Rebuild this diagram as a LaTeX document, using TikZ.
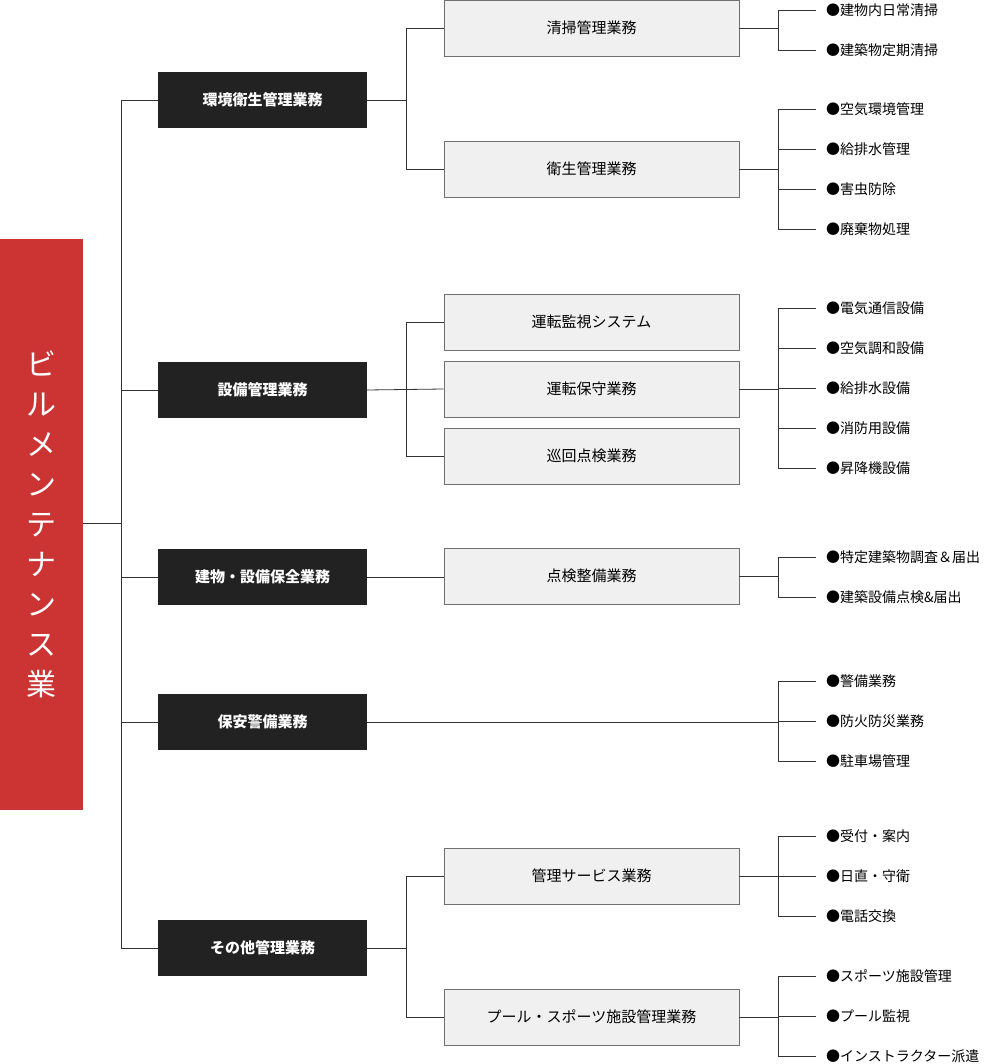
\documentclass[tikz,border=0pt]{standalone}
\usepackage{fontspec}
\setmainfont{Noto Sans CJK JP}
\newfontfamily\jpb{Noto Sans CJK JP}[BoldFont={Noto Sans CJK JP Bold}]
\definecolor{redb}{HTML}{CC3333}
\definecolor{darkb}{HTML}{222222}
\definecolor{lightb}{HTML}{F0F0F0}
\definecolor{lineg}{HTML}{333333}
\begin{document}
\begin{tikzpicture}[x=1pt,y=-1pt,
  dk/.style={fill=darkb,draw=none,minimum width=209pt,minimum height=56pt,text=white,font=\fontsize{15}{18}\selectfont\bfseries,inner sep=0pt},
  lt/.style={fill=lightb,draw=lineg!70,line width=0.6pt,minimum width=295pt,minimum height=56pt,font=\fontsize{15}{18}\selectfont,inner sep=0pt},
  it/.style={anchor=west,font=\fontsize{14}{17}\selectfont,inner sep=0pt},
  ln/.style={draw=lineg,line width=0.8pt}]
\useasboundingbox (0,0) rectangle (1002,1064);
\node[fill=redb,minimum width=83pt,minimum height=571pt,inner sep=0pt,anchor=north west] (root) at (0,239) {};
\node[text=white,font=\fontsize{30}{40}\selectfont,align=center] at (41.5,524) {ビ\\ル\\メ\\ン\\テ\\ナ\\ン\\ス\\業};
\coordinate (t0) at (121,100); \coordinate (t1) at (121,948);
\draw[ln] (root.east |- 0,523) -- (121,523);
\draw[ln] (t0) -- (t1);
\foreach \n/\y/\t in {a/100/環境衛生管理業務,b/390/設備管理業務,c/577/建物・設備保全業務,d/722/保安警備業務,e/948/その他管理業務}{
  \node[dk] (\n) at (262.5,\y) {\t};
  \draw[ln] (121,\y) -- (\n.west);
}
\foreach \n/\y/\t in {a1/28/清掃管理業務,a2/169/衛生管理業務,b1/322/運転監視システム,b2/389/運転保守業務,b3/456/巡回点検業務,c1/576/点検整備業務,e1/876/管理サービス業務,e2/1017/プール・スポーツ施設管理業務}{
  \node[lt] (\n) at (591.5,\y) {\t};
}
% level1 -> level2
\draw[ln] (a.east) -- (406,100); \draw[ln] (406,28) -- (406,169);
\draw[ln] (406,28) -- (a1.west); \draw[ln] (406,169) -- (a2.west);
\draw[ln] (b.east) -- (b2.west); \draw[ln] (406,322) -- (406,456);
\draw[ln] (406,322) -- (b1.west); \draw[ln] (406,456) -- (b3.west);
\draw[ln] (c.east) -- (c1.west |- c.east);
\draw[ln] (d.east) -- (778,722);
\draw[ln] (e.east) -- (406,948); \draw[ln] (406,876) -- (406,1017);
\draw[ln] (406,876) -- (e1.west); \draw[ln] (406,1017) -- (e2.west);
% level3
\foreach \src/\cy/\lst in {a1/28/{10/建物内日常清掃,50/建築物定期清掃},
  a2/169/{109/空気環境管理,149/給排水管理,189/害虫防除,229/廃棄物処理},
  b2/389/{308/電気通信設備,348/空気調和設備,388/給排水設備,428/消防用設備,468/昇降機設備},
  c1/576/{557/特定建築物調査＆届出,597/建築設備点検\&届出},
  d/722/{681/警備業務,721/防火防災業務,761/駐車場管理},
  e1/876/{836/受付・案内,876/日直・守衛,916/電話交換},
  e2/1017/{976/スポーツ施設管理,1016/プール監視,1056/インストラクター派遣}}{
  \draw[ln] (\src.east |- 0,\cy) -- (778,\cy);
  \foreach \yy/\tx [count=\i] in \lst {
    \draw[ln] (778,\yy) -- (816,\yy);
    \node[it] at (826,\yy) {●\tx};
  }
}
\foreach \a/\b in {10/50,109/229,308/468,557/597,681/761,836/916,976/1056}{
  \draw[ln] (778,\a) -- (778,\b);
}
\end{tikzpicture}
\end{document}
